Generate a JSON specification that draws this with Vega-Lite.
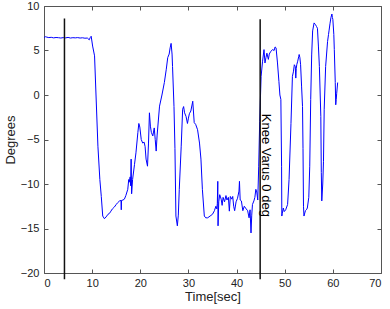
{
  "$schema": "https://vega.github.io/schema/vega-lite/v6.json",
  "autosize": "none",
  "padding": {"left": 44, "top": 6, "right": 9, "bottom": 36},
  "width": 337,
  "height": 267,
  "background": "white",
  "config": {
    "font": "Liberation Sans",
    "view": {"stroke": null},
    "axis": {
      "grid": false,
      "domainColor": "#555555",
      "tickColor": "#555555",
      "tickSize": -4,
      "labelColor": "#222222",
      "labelFontSize": 11,
      "titleFontSize": 13,
      "titleFontWeight": "normal",
      "titleColor": "#222222",
      "labelPadding": 9
    }
  },
  "datasets": {
    "series": [
      {"t":0,"deg":6.45},{"t":0.3,"deg":6.55},{"t":0.6,"deg":6.5},{"t":1,"deg":6.45},{"t":1.5,"deg":6.48},{"t":2,"deg":6.42},{"t":2.5,"deg":6.46},{"t":3,"deg":6.44},{"t":3.5,"deg":6.4},{"t":4,"deg":6.45},{"t":4.5,"deg":6.42},{"t":5,"deg":6.47},{"t":5.5,"deg":6.4},{"t":6,"deg":6.44},{"t":6.5,"deg":6.42},{"t":7,"deg":6.45},{"t":7.5,"deg":6.4},{"t":8,"deg":6.43},{"t":8.5,"deg":6.38},{"t":9,"deg":6.4},{"t":9.4,"deg":6.2},{"t":9.6,"deg":6.45},{"t":9.8,"deg":6.6},{"t":10.1,"deg":5.5},{"t":10.5,"deg":4.4},{"t":11.2,"deg":-5.75},{"t":11.6,"deg":-9.5},{"t":11.9,"deg":-11.4},{"t":12.2,"deg":-13.6},{"t":12.55,"deg":-13.9},{"t":12.9,"deg":-13.7},{"t":13.3,"deg":-13.4},{"t":13.6,"deg":-13.3},{"t":13.9,"deg":-13.05},{"t":14.2,"deg":-12.8},{"t":14.6,"deg":-12.6},{"t":15.0,"deg":-12.3},{"t":15.3,"deg":-12.1},{"t":15.7,"deg":-11.9},{"t":16.0,"deg":-11.85},{"t":16.05,"deg":-12.9},{"t":16.1,"deg":-11.85},{"t":16.4,"deg":-11.8},{"t":16.7,"deg":-11.7},{"t":17.0,"deg":-11.3},{"t":17.4,"deg":-10.6},{"t":17.6,"deg":-9.5},{"t":17.7,"deg":-9.8},{"t":17.9,"deg":-9.2},{"t":18.0,"deg":-10.2},{"t":18.1,"deg":-7.2},{"t":18.2,"deg":-11.1},{"t":18.4,"deg":-9.5},{"t":18.8,"deg":-7.8},{"t":19.1,"deg":-6.5},{"t":19.5,"deg":-4.2},{"t":19.7,"deg":-3.2},{"t":19.9,"deg":-3.6},{"t":20.2,"deg":-5.0},{"t":20.5,"deg":-5.4},{"t":20.8,"deg":-5.3},{"t":21.0,"deg":-5.8},{"t":21.2,"deg":-7.2},{"t":21.5,"deg":-8.0},{"t":21.7,"deg":-5.5},{"t":21.9,"deg":-2.0},{"t":22.1,"deg":-3.5},{"t":22.3,"deg":-4.2},{"t":22.6,"deg":-4.6},{"t":22.9,"deg":-3.7},{"t":23.1,"deg":-5.0},{"t":23.3,"deg":-6.3},{"t":23.5,"deg":-4.5},{"t":24.0,"deg":-1.25},{"t":24.5,"deg":0.0},{"t":25.0,"deg":1.4},{"t":25.4,"deg":2.9},{"t":25.7,"deg":4.2},{"t":26.0,"deg":4.6},{"t":26.2,"deg":5.3},{"t":26.4,"deg":5.8},{"t":26.6,"deg":4.6},{"t":26.7,"deg":3.2},{"t":27.0,"deg":-1.3},{"t":27.2,"deg":-6.0},{"t":27.4,"deg":-13.6},{"t":27.7,"deg":-14.7},{"t":27.9,"deg":-13.5},{"t":28.1,"deg":-10.6},{"t":28.5,"deg":-5.75},{"t":28.8,"deg":-1.6},{"t":29.0,"deg":-1.3},{"t":29.2,"deg":-2.0},{"t":29.5,"deg":-2.4},{"t":29.8,"deg":-3.2},{"t":30.0,"deg":-2.6},{"t":30.2,"deg":-2.1},{"t":30.5,"deg":-1.8},{"t":30.9,"deg":-0.7},{"t":31.2,"deg":-3.1},{"t":31.5,"deg":-3.3},{"t":31.9,"deg":-3.9},{"t":32.3,"deg":-5.4},{"t":32.6,"deg":-7.2},{"t":32.9,"deg":-10.6},{"t":33.3,"deg":-13.6},{"t":33.6,"deg":-13.8},{"t":34.0,"deg":-13.8},{"t":34.5,"deg":-13.6},{"t":35.0,"deg":-13.4},{"t":35.4,"deg":-13.0},{"t":35.7,"deg":-12.5},{"t":35.9,"deg":-12.8},{"t":36.0,"deg":-12.2},{"t":36.1,"deg":-9.7},{"t":36.15,"deg":-14.7},{"t":36.3,"deg":-12.0},{"t":36.5,"deg":-11.2},{"t":36.8,"deg":-11.7},{"t":37.0,"deg":-12.4},{"t":37.2,"deg":-11.5},{"t":37.5,"deg":-12.0},{"t":37.8,"deg":-11.3},{"t":38.0,"deg":-11.8},{"t":38.3,"deg":-11.5},{"t":38.5,"deg":-13.05},{"t":38.7,"deg":-11.4},{"t":39.0,"deg":-11.7},{"t":39.2,"deg":-11.4},{"t":39.4,"deg":-12.5},{"t":39.6,"deg":-13.0},{"t":39.9,"deg":-12.0},{"t":40.2,"deg":-11.6},{"t":40.5,"deg":-10.8},{"t":40.6,"deg":-9.7},{"t":40.75,"deg":-11.8},{"t":41.0,"deg":-11.9},{"t":41.3,"deg":-13.0},{"t":41.6,"deg":-12.5},{"t":42.0,"deg":-12.8},{"t":42.3,"deg":-13.0},{"t":42.6,"deg":-13.8},{"t":42.8,"deg":-12.9},{"t":43.0,"deg":-15.5},{"t":43.15,"deg":-13.5},{"t":43.3,"deg":-12.3},{"t":43.6,"deg":-11.9},{"t":43.8,"deg":-11.5},{"t":44.0,"deg":-10.6},{"t":44.2,"deg":-10.9},{"t":44.4,"deg":-11.8},{"t":44.6,"deg":-8.0},{"t":44.8,"deg":-3.0},{"t":45.1,"deg":2.1},{"t":45.4,"deg":3.8},{"t":45.7,"deg":5.1},{"t":45.9,"deg":3.6},{"t":46.1,"deg":4.2},{"t":46.3,"deg":4.7},{"t":46.6,"deg":4.0},{"t":46.8,"deg":4.6},{"t":47.1,"deg":4.9},{"t":47.5,"deg":5.1},{"t":47.8,"deg":5.0},{"t":48.0,"deg":5.4},{"t":48.2,"deg":5.3},{"t":48.5,"deg":3.6},{"t":48.8,"deg":1.5},{"t":49.0,"deg":0.0},{"t":49.2,"deg":-0.5},{"t":49.35,"deg":-8.0},{"t":49.4,"deg":-13.6},{"t":49.5,"deg":-13.3},{"t":49.7,"deg":-12.7},{"t":49.9,"deg":-13.1},{"t":50.2,"deg":-12.9},{"t":50.6,"deg":-12.3},{"t":50.9,"deg":-9.5},{"t":51.3,"deg":-3.2},{"t":51.6,"deg":2.1},{"t":51.8,"deg":2.6},{"t":52.0,"deg":3.4},{"t":52.2,"deg":3.2},{"t":52.3,"deg":1.9},{"t":52.4,"deg":3.0},{"t":52.5,"deg":3.4},{"t":52.7,"deg":3.8},{"t":52.9,"deg":4.3},{"t":53.0,"deg":4.55},{"t":53.15,"deg":4.2},{"t":53.3,"deg":3.4},{"t":53.5,"deg":1.0},{"t":53.7,"deg":-1.3},{"t":53.8,"deg":-6.0},{"t":53.9,"deg":-12.5},{"t":54.0,"deg":-13.6},{"t":54.3,"deg":-13.0},{"t":54.5,"deg":-12.9},{"t":54.7,"deg":-12.7},{"t":55.0,"deg":-11.5},{"t":55.2,"deg":-8.0},{"t":55.4,"deg":-0.5},{"t":55.6,"deg":4.5},{"t":55.8,"deg":7.2},{"t":56.1,"deg":8.1},{"t":56.4,"deg":7.9},{"t":56.6,"deg":7.7},{"t":56.8,"deg":7.5},{"t":57.0,"deg":5.5},{"t":57.2,"deg":3.2},{"t":57.5,"deg":-2.4},{"t":57.6,"deg":-8.7},{"t":57.7,"deg":-11.9},{"t":57.9,"deg":-10.0},{"t":58.05,"deg":-7.5},{"t":58.2,"deg":-1.6},{"t":58.5,"deg":3.2},{"t":58.9,"deg":6.0},{"t":59.1,"deg":6.8},{"t":59.2,"deg":7.2},{"t":59.4,"deg":8.0},{"t":59.6,"deg":8.7},{"t":59.8,"deg":9.1},{"t":59.9,"deg":8.7},{"t":60.0,"deg":8.5},{"t":60.2,"deg":6.8},{"t":60.3,"deg":5.1},{"t":60.5,"deg":1.4},{"t":60.6,"deg":-1.1},{"t":60.7,"deg":-0.5},{"t":60.8,"deg":0.2},{"t":61.0,"deg":1.4}
    ],
    "markers": [
      {"t": 4.25, "top": 8.6, "bottom": -20.7},
      {"t": 44.9, "top": 8.5, "bottom": -20.7}
    ],
    "note": [
      {"t": 46.2, "deg": -7.9, "label": "Knee Varus 0 deg"}
    ]
  },
  "layer": [
    {
      "data": {"name": "series"},
      "mark": {"type": "line", "color": "#0000ff", "strokeWidth": 1},
      "encoding": {
        "x": {"field": "t", "type": "quantitative", "scale": {"domain": [0, 70], "nice": false},
              "axis": {"orient": "bottom", "title": "Time[sec]", "values": [0,10,20,30,40,50,60,70], "labelPadding": 8, "titlePadding": 2}},
        "y": {"field": "deg", "type": "quantitative", "scale": {"domain": [-20, 10], "nice": false, "zero": false},
              "axis": {"orient": "left", "title": "Degrees", "values": [-20,-15,-10,-5,0,5,10], "titlePadding": 3}}
      }
    },
    {
      "data": {"name": "markers"},
      "mark": {"type": "rule", "color": "#111111", "strokeWidth": 1.5},
      "encoding": {
        "x": {"field": "t", "type": "quantitative",
              "axis": {"orient": "top", "labels": false, "title": null, "values": [0,10,20,30,40,50,60,70]}},
        "y": {"field": "top", "type": "quantitative",
              "axis": {"orient": "right", "labels": false, "title": null, "values": [-20,-15,-10,-5,0,5,10]}},
        "y2": {"field": "bottom"}
      }
    },
    {
      "data": {"name": "note"},
      "mark": {"type": "text", "angle": 90, "align": "center", "baseline": "middle", "fontSize": 13, "color": "#000000"},
      "encoding": {
        "x": {"field": "t", "type": "quantitative", "axis": null},
        "y": {"field": "deg", "type": "quantitative", "axis": null},
        "text": {"field": "label"}
      }
    }
  ]
}
